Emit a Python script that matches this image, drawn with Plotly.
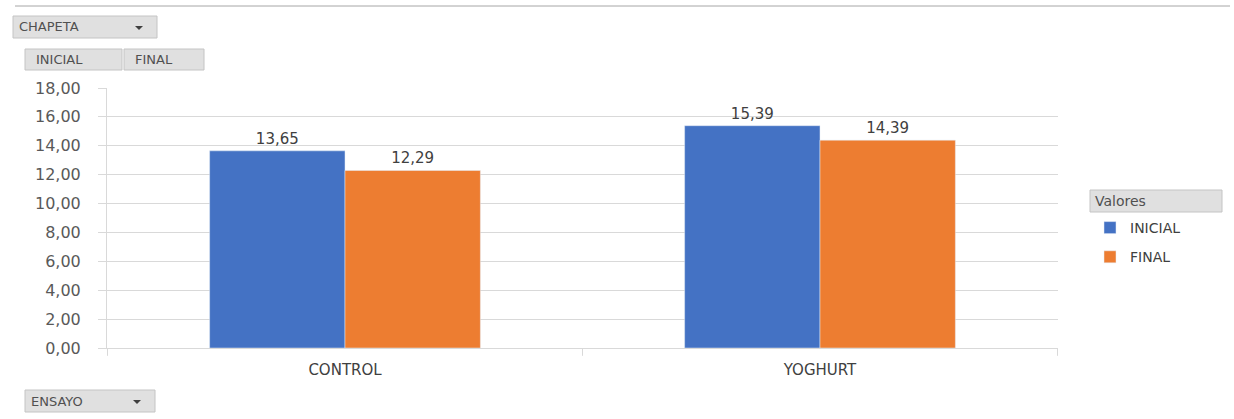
import plotly.graph_objects as go

categories = ["CONTROL", "YOGHURT"]
inicial = [13.65, 15.39]
final = [12.29, 14.39]
y_ticks = [0, 2, 4, 6, 8, 10, 12, 14, 16, 18]

W, H = 1234, 419
L, R, T, B = 107, 1058, 88, 348
FONT = "DejaVu Sans"
TXT = "#404040"


def px(x):
    return (x - L) / (R - L)


def py(y):
    return (B - y) / (B - T)


fig = go.Figure()
fig.add_trace(go.Bar(
    name="INICIAL", x=categories, y=inicial, marker_color="#4472C4",
    text=[f"{v:.2f}".replace(".", ",") for v in inicial], textposition="outside",
    textfont=dict(size=15, color=TXT, family=FONT), cliponaxis=False,
    legendgroup="a",
))
fig.add_trace(go.Bar(
    name="FINAL", x=categories, y=final, marker_color="#ED7D31",
    text=[f"{v:.2f}".replace(".", ",") for v in final], textposition="outside",
    textfont=dict(size=15, color=TXT, family=FONT), cliponaxis=False,
    legendgroup="b",
))

shapes = []
annotations = []

# thin rule across the top
shapes.append(dict(type="line", xref="paper", yref="paper",
                   x0=px(15), x1=px(1230), y0=py(6), y1=py(6),
                   line=dict(color="#a6a6a6", width=1)))


def button(x0, y0, x1, y1, label, arrow=False, size=13, pad=5):
    shapes.append(dict(type="rect", xref="paper", yref="paper",
                       x0=px(x0), x1=px(x1), y0=py(y1), y1=py(y0),
                       fillcolor="#e0e0e0", line=dict(color="#c4c4c4", width=1)))
    annotations.append(dict(xref="paper", yref="paper", x=px(x0 + pad), y=py((y0 + y1) / 2),
                            text=label, showarrow=False, xanchor="left", yanchor="middle",
                            font=dict(size=size, color="#505050", family=FONT)))
    if arrow:
        ax = x1 - 18
        ay = (y0 + y1) / 2
        shapes.append(dict(type="path", xref="paper", yref="paper",
                           path=f"M {px(ax-4)} {py(ay-1)} L {px(ax+4)} {py(ay-1)} L {px(ax)} {py(ay+3)} Z",
                           fillcolor="#404040", line=dict(width=0)))


button(13, 16, 157, 38, "CHAPETA", arrow=True, pad=4)
button(25, 49, 122, 70, "INICIAL", pad=9)
button(124, 49, 204, 70, "FINAL", pad=9)
button(25, 390, 155, 412, "ENSAYO", arrow=True, pad=4)
button(1090, 190, 1222, 212, "Valores", size=14, pad=3)

fig.update_layout(
    width=W, height=H,
    margin=dict(l=L, r=W - R, t=T, b=H - B, pad=0),
    paper_bgcolor="white", plot_bgcolor="white",
    barmode="group", bargap=0.43, bargroupgap=0,
    separators=",.",
    font=dict(family=FONT, color=TXT, size=14),
    shapes=shapes, annotations=annotations,
    legend=dict(x=px(1090), y=py(212), xanchor="left", yanchor="top",
                font=dict(size=14, color=TXT, family=FONT),
                tracegroupgap=8, bgcolor="rgba(0,0,0,0)"),
    xaxis=dict(showline=True, linecolor="#d9d9d9", linewidth=1,
               ticks="outside", ticklen=0, ticklabelstandoff=8,
               tickfont=dict(size=15, color=TXT)),
    yaxis=dict(range=[0, 18], tickvals=y_ticks, tickformat=".2f",
               showgrid=True, gridcolor="#d9d9d9", gridwidth=1,
               showline=True, linecolor="#d9d9d9", linewidth=1,
               ticks="outside", ticklen=8, tickcolor="#d9d9d9",
               ticklabelstandoff=14,
               tickfont=dict(size=16, color="#595959"), zeroline=False),
)

# category separators on the x axis
for xv in [-0.5, 0.5, 1.5]:
    fig.add_shape(type="line", xref="x", yref="paper", x0=xv, x1=xv, y0=0, y1=-0.03,
                  line=dict(color="#d9d9d9", width=1))

fig.write_html("out.html")
